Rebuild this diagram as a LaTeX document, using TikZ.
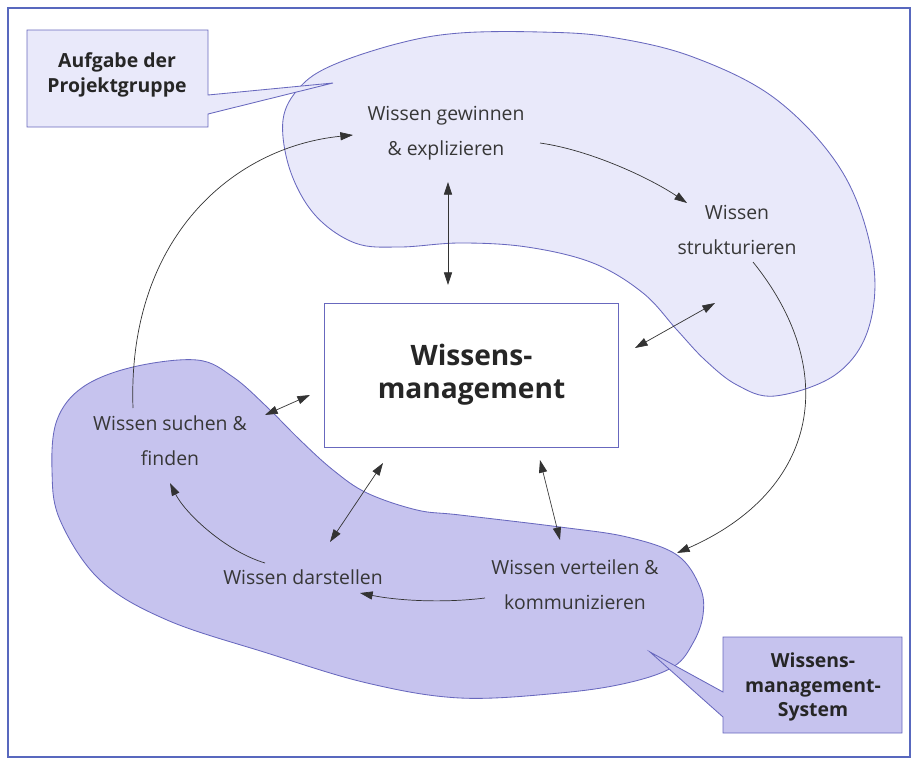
\documentclass[tikz,border=0pt]{standalone}
\usepackage{fontspec}
\setmainfont{Open Sans}
\usetikzlibrary{arrows.meta, positioning, math, calc}
\definecolor{FrameBlue}{RGB}{88,104,190}
\definecolor{LineBlue}{RGB}{104,104,190}
\definecolor{LightLila}{RGB}{233,233,250}
\definecolor{DarkLila}{RGB}{198,195,238}
\definecolor{TextGray}{RGB}{55,55,55}

\begin{document}
\begin{tikzpicture}[x=0.025cm, y=-0.025cm, >={Triangle[length=9pt,width=5.8pt]}]
		\tikzmath{
			\boxW       = 7.33;   %central box width (cm)
			\boxH       = 3.6;    %central box height (cm)
		}
		\tikzstyle{StepText} = [
			align=center,
			text=TextGray,
			font=\fontsize{13.8}{25}\selectfont,
			inner sep=2pt
		]
		\tikzstyle{NoteText} = [
			align=center,
			text=black!85,
			font=\fontsize{13.8}{17.3}\selectfont\bfseries
		]
		\tikzstyle{Blob} = [
			draw=LineBlue,
			line width=0.6pt
		]
		\tikzstyle{Flow} = [
			->,
			draw=black!80,
			line width=0.5pt
		]
		\tikzstyle{Link} = [
			<->,
			draw=black!80,
			line width=0.5pt
		]
		\useasboundingbox (0,0) rectangle (917,764);
		\draw [FrameBlue, line width=1.4pt] (8,8) rectangle (910,757);
		%%%%%%%%%%%%%%%%%%%%%%%%%%===---BLOBS---===%%%%%%%%%%%%%%%%%%%%%%%%%%
		\draw [Blob, fill=LightLila] plot [smooth cycle, tension=0.6] coordinates {
			(460,33) (540,32) (610,37) (693,57) (777,100) (843,173) (873,260)
			(868,330) (835,375) (775,396) (737,385) (705,360) (677,330) (643,293)
			(593,263) (527,247) (460,243) (400,247) (355,243) (315,215) (290,170)
			(283,120) (300,87) (333,65) (400,43)};
		\draw [Blob, fill=DarkLila] plot [smooth cycle, tension=0.6] coordinates {
			(197,360) (233,377) (267,407) (300,440) (333,470) (367,493) (417,510)
			(460,515) (560,527) (627,537) (677,555) (700,587) (703,615) (693,643)
			(673,667) (627,683) (560,693) (460,698) (367,683) (267,653) (167,620)
			(100,580) (60,520) (52,470) (57,420) (83,387) (133,367)};
		%%%%%%%%%%%%%%%%%%%%%%%%%%===---CALLOUTS---===%%%%%%%%%%%%%%%%%%%%%%%%%%
		\draw [Blob, fill=LightLila] (27,30) -- (208,30) -- (208,95) -- (333,83)
			-- (208,114) -- (208,127) -- (27,127) -- cycle;
		\node (aufg) [NoteText] at (117,75) {Aufgabe der\\Projektgruppe};
		\draw [Blob, fill=DarkLila] (723,637) -- (902,637) -- (902,733) -- (723,733)
			-- (723,717) -- (650,652) -- (723,692) -- cycle;
		\node (wms) [NoteText] at (813,687) {Wissens-\\management-\\System};
		%%%%%%%%%%%%%%%%%%%%%%%%%%===---NODES---===%%%%%%%%%%%%%%%%%%%%%%%%%%
		\node (wm) [draw=LineBlue, fill=white, line width=0.6pt,
			minimum width=\boxW cm, minimum height=\boxH cm,
			align=center, text=black!85,
			font=\fontsize{20}{23.5}\selectfont\bfseries] at (471.5,375) {Wissens-\\management};
		\node (gew) [StepText] at (446,133) {Wissen gewinnen\\\& explizieren};
		\node (str) [StepText] at (737,230) {Wissen\\strukturieren};
		\node (such) [StepText] at (170,441) {Wissen suchen \&\\finden};
		\node (dar) [StepText] at (303,577) {Wissen darstellen};
		\node (ver) [StepText] at (575,585) {Wissen verteilen \&\\kommunizieren};
		%%%%%%%%%%%%%%%%%%%%%%%%%%===---CYCLE---===%%%%%%%%%%%%%%%%%%%%%%%%%%
		\draw [Flow] ($(such)+(-37,-33)$) .. controls +(-6,-170) and +(-120,12) .. ($(gew)+(-93,2)$);
		\draw [Flow] ($(gew)+(94,10)$) .. controls +(50,7) and +(-37,-25) .. ($(str)+(-50,-27)$);
		\draw [Flow] ($(str)+(16,32)$) .. controls +(87,108) and +(143,-63) .. ($(ver)+(102,-32)$);
		\draw [Flow] ($(ver)+(-90,13)$) .. controls +(-40,5) and +(40,8) .. ($(dar)+(57,16)$);
		\draw [Flow] ($(dar)+(-38,-14)$) .. controls +(-40,-12) and +(15,30) .. ($(such)+(0,42)$);
		%%%%%%%%%%%%%%%%%%%%%%%%%%===---LINKS TO CENTRE---===%%%%%%%%%%%%%%%%%%%%%%%%%%
		\draw [Link] ($(gew)+(2,49)$) -- ($(wm)+(-23.5,-90)$);
		\draw [Link] ($(wm)+(163.5,-27)$) -- ($(str)+(-22,73)$);
		\draw [Link] ($(wm)+(68.5,85)$) -- ($(ver)+(-15,-45)$);
		\draw [Link] ($(wm)+(-88.5,88)$) -- ($(dar)+(27,-35)$);
		\draw [Link] ($(wm)+(-161.5,20)$) -- ($(such)+(95,-26)$);
	\end{tikzpicture}
\end{document}
